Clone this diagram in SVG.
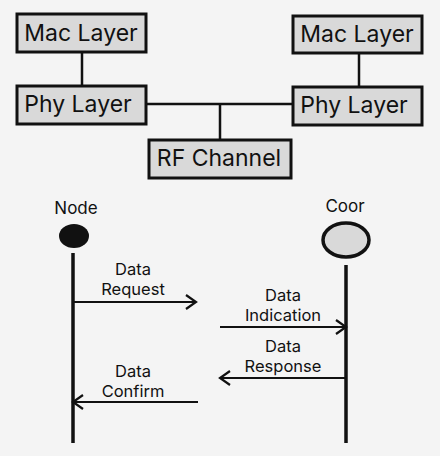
<svg xmlns="http://www.w3.org/2000/svg" width="440" height="456" viewBox="0 0 440 456">
<style>
.box{fill:#d9d9d9;stroke:#111;stroke-width:3}
.bt{font-family:Inter,"Liberation Sans",sans-serif;font-size:23px;fill:#111;text-anchor:middle}
.lt{font-family:Inter,"Liberation Sans",sans-serif;font-size:16.5px;fill:#111;text-anchor:middle}
.nt{font-family:Inter,"Liberation Sans",sans-serif;font-size:17px;fill:#111;text-anchor:middle}
.ln{stroke:#111;stroke-width:2.5;fill:none}
.life{stroke:#111;stroke-width:3.5;fill:none}
.msg{stroke:#111;stroke-width:2;fill:none;marker-end:url(#arr)}
</style>
<defs>
<marker id="arr" markerUnits="userSpaceOnUse" markerWidth="14" markerHeight="20" refX="11" refY="8" orient="auto" viewBox="0 0 14 16">
<path d="M1,1 L11,8 L1,15" fill="none" stroke="#111" stroke-width="2.2"/>
</marker>
</defs>
<rect width="440" height="456" fill="#f4f4f4"/>
<g id="connectors">
<line class="ln" x1="82" y1="52" x2="82" y2="86"/>
<line class="ln" x1="359" y1="53" x2="359" y2="87"/>
<line class="ln" x1="146" y1="104" x2="293" y2="104"/>
<line class="ln" x1="220" y1="104" x2="220" y2="140"/>
<line class="life" x1="73" y1="253" x2="73" y2="443"/>
<line class="life" x1="346" y1="265" x2="346" y2="443"/>
<line class="msg" x1="73" y1="302" x2="196" y2="302"/>
<line class="msg" x1="220" y1="327" x2="346" y2="327"/>
<line class="msg" x1="346" y1="378" x2="220" y2="378"/>
<line class="msg" x1="198" y1="402" x2="73" y2="402"/>
</g>
<g id="mac-left"><rect class="box" x="17" y="14" width="129" height="38"/><text class="bt" x="81" y="41">Mac Layer</text></g>
<g id="phy-left"><rect class="box" x="17" y="86" width="129" height="38"/><text class="bt" x="78" y="112">Phy Layer</text></g>
<g id="mac-right"><rect class="box" x="293" y="16" width="129" height="37"/><text class="bt" x="357" y="42">Mac Layer</text></g>
<g id="phy-right"><rect class="box" x="293" y="87" width="129" height="38"/><text class="bt" x="354" y="113">Phy Layer</text></g>
<g id="rf"><rect class="box" x="149" y="140" width="142" height="38"/><text class="bt" x="219" y="166">RF Channel</text></g>
<g id="node"><text class="nt" x="76" y="214">Node</text><ellipse cx="74" cy="236" rx="15" ry="12" fill="#111"/></g>
<g id="coor"><text class="nt" x="345" y="212">Coor</text><ellipse cx="346" cy="240" rx="23" ry="17" fill="#d9d9d9" stroke="#111" stroke-width="3.5"/></g>
<g id="labels">
<text class="lt" x="133" y="275">Data</text><text class="lt" x="133" y="295">Request</text>
<text class="lt" x="283" y="301">Data</text><text class="lt" x="283" y="321">Indication</text>
<text class="lt" x="283" y="352">Data</text><text class="lt" x="283" y="372">Response</text>
<text class="lt" x="133" y="377">Data</text><text class="lt" x="133" y="397">Confirm</text>
</g>
</svg>
